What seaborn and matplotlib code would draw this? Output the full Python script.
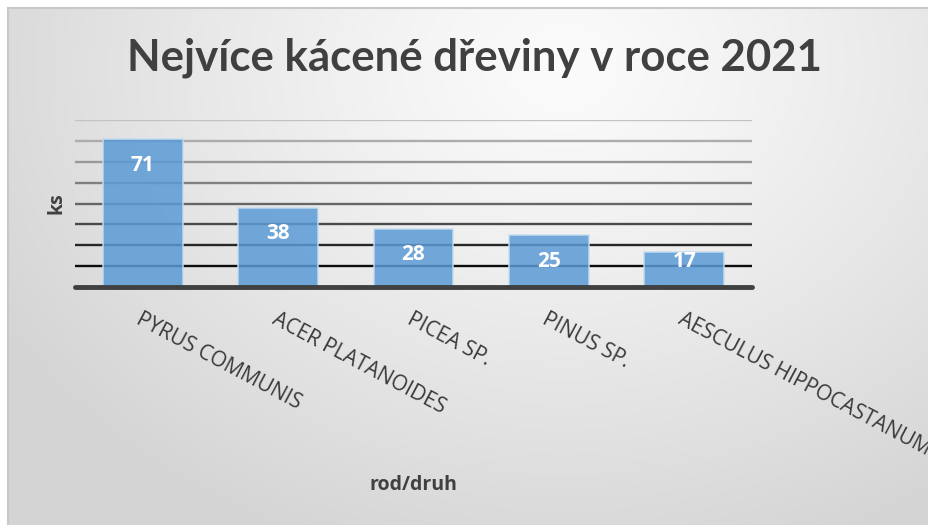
import numpy as np
import matplotlib
matplotlib.use("Agg")
import matplotlib.pyplot as plt
import seaborn as sns

species = ["PYRUS COMMUNIS", "ACER PLATANOIDES", "PICEA SP.", "PINUS SP.",
           "AESCULUS HIPPOCASTANUM"]
counts = [71, 38, 28, 25, 17]
grid_levels = [10, 20, 30, 40, 50, 60, 70, 80]
grid_colors = ["#0d0d0d", "#262626", "#4a4a4a", "#666666", "#808080",
               "#989898", "#acacac", "#c2c2c2"]

sns.set_theme(style="white")
plt.rcParams["font.family"] = ["Open Sans", "DejaVu Sans"]
TITLE_FONT = ["Lato", "DejaVu Sans"]

W, H = 929, 525
fig = plt.figure(figsize=(W / 100, H / 100), dpi=100)
fig.patch.set_facecolor("white")

# background panel with soft radial gradient
bg = fig.add_axes([8 / W, 0, 1 - 8 / W, 1 - 8 / H], zorder=-5)
yy, xx = np.mgrid[0:H, 0:W].astype(float)
d = np.sqrt(((xx - 560) / 650) ** 2 + ((yy - 60) / 520) ** 2)
d = np.clip(d, 0, 1) ** 1.2
light, dark = 0.985, 0.835
img = light + (dark - light) * d
bg.imshow(np.dstack([img, img, img]), aspect="auto", extent=[0, 1, 0, 1])
bg.set_xticks([])
bg.set_yticks([])
for side, sp in bg.spines.items():
    sp.set_visible(side in ("left", "top"))
    sp.set_color("#c8c8c8")
    sp.set_linewidth(1.5)

# main plot
ax = fig.add_axes([75 / W, 1 - 287 / H, 677 / W, 167 / H])
ax.patch.set_alpha(0)
for g, c in zip(grid_levels, grid_colors):
    ax.axhline(g, color=c, lw=1.7, zorder=0)

sns.barplot(x=species, y=counts, color="#5b9bd5", saturation=1, width=0.59,
            edgecolor="#c5dcf0", linewidth=1.2, alpha=0.85, ax=ax, zorder=2)

ax.set_ylim(0, 80)
ax.set_xlim(-0.5, len(species) - 0.5)
ax.axhline(0, color="#404040", lw=3.5, zorder=3, clip_on=False)
for sp in ax.spines.values():
    sp.set_visible(False)
ax.set_yticks([])

for i, v in enumerate(counts):
    ax.text(i, max(v - 12.6, 12.2), str(v), ha="center", va="center",
            color="white", fontsize=15, fontweight="bold", zorder=4)

ax.tick_params(axis="x", length=0, pad=16, labelsize=15, labelcolor="#3a3a3a")
for lab in ax.get_xticklabels():
    lab.set_rotation(-28)
    lab.set_ha("left")
    lab.set_va("top")
    lab.set_rotation_mode("anchor")

ax.set_xlabel("rod/druh", fontsize=14, fontweight="bold", color="#404040")
ax.xaxis.set_label_coords(0.5, -1.186)
ax.xaxis.label.set_va("center")
ax.set_ylabel("ks", fontsize=14, fontweight="bold", color="#404040")
ax.yaxis.set_label_coords(-0.027, 0.503)
ax.yaxis.label.set_va("center")

fig.text(474.5 / W, 1 - 58 / H, "Nejvíce kácené dřeviny v roce 2021",
         ha="center", va="center", fontsize=31.5, fontweight="bold",
         color="#404040", family=TITLE_FONT)

fig.savefig("out.png", dpi=100)
